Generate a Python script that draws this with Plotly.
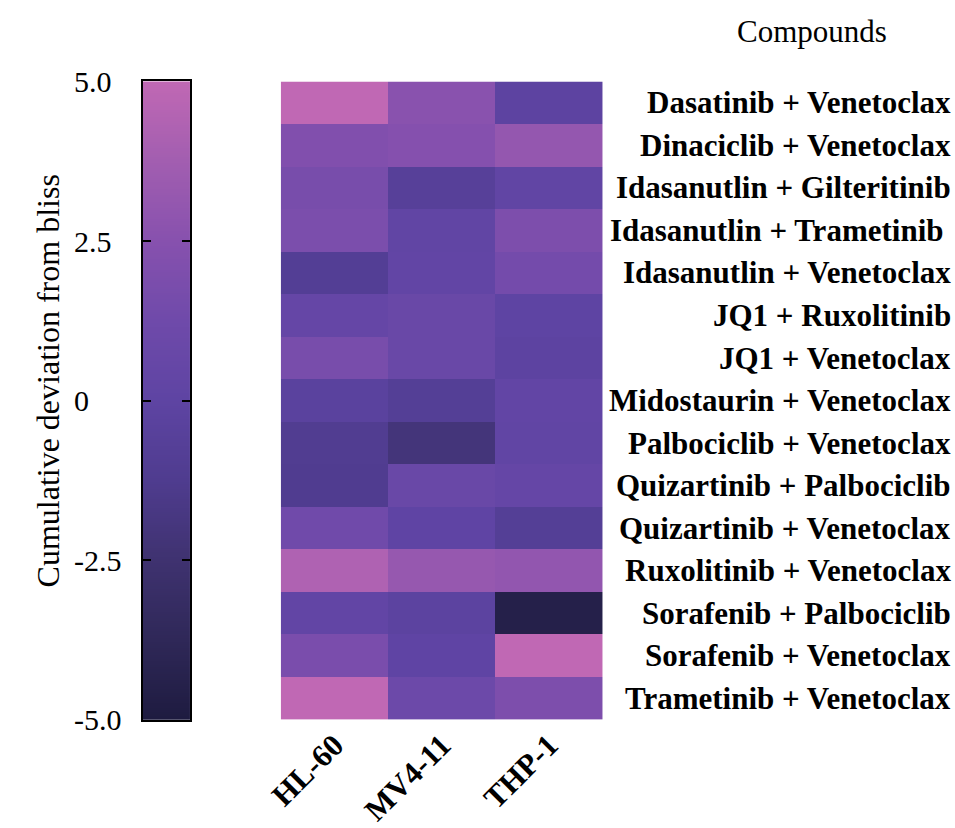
import numpy as np
import plotly.graph_objects as go

# ---- data -------------------------------------------------------------
cell_lines = ["HL-60", "MV4-11", "THP-1"]
compounds = [
    "Dasatinib + Venetoclax",
    "Dinaciclib + Venetoclax",
    "Idasanutlin + Gilteritinib",
    "Idasanutlin + Trametinib ",
    "Idasanutlin + Venetoclax",
    "JQ1 + Ruxolitinib",
    "JQ1 + Venetoclax",
    "Midostaurin + Venetoclax",
    "Palbociclib + Venetoclax",
    "Quizartinib + Palbociclib",
    "Quizartinib + Venetoclax",
    "Ruxolitinib + Venetoclax",
    "Sorafenib + Palbociclib",
    "Sorafenib + Venetoclax",
    "Trametinib + Venetoclax",
]
hl60 = [5.0, 2.2, 1.7, 1.9, -0.9, 0.5, 1.7, -0.3, -1.1, -1.2, 1.3, 4.3, 0.3, 1.8, 5.0]
mv411 = [2.6, 2.4, -0.6, 0.2, 0.3, 0.8, 0.8, -0.8, -2.1, 0.8, 0.1, 3.2, -0.2, 0.1, 1.0]
thp1 = [-0.1, 3.1, 0.2, 2.0, 1.5, 0.0, -0.1, 0.3, 0.2, 0.5, -0.8, 3.0, -4.5, 5.0, 2.0]

scale_ticks = [-5.0, -2.5, 0.0, 2.5, 5.0]
scale_ticktext = ["-5.0", "-2.5", "0", "2.5", "5.0"]
zmin, zmax = -5.0, 5.0

colorscale = [
    [0.0, "#1E1B40"], [0.125, "#2F2858"], [0.25, "#3F3270"],
    [0.375, "#4F3C8F"], [0.5, "#5E44A3"], [0.625, "#6F4AAA"],
    [0.75, "#8751AE"], [0.875, "#A25EB0"], [1.0, "#C068B4"],
]

# ---- geometry (pixels -> paper) ---------------------------------------
W, H = 955, 828
def px(x):
    return x / W
def py(y):
    return 1 - y / H

z = [[a, b, c] for a, b, c in zip(hl60, mv411, thp1)]
serif = "Liberation Serif, Times New Roman, serif"

fig = go.Figure()
fig.add_trace(go.Heatmap(
    z=z, x=cell_lines, y=compounds,
    colorscale=colorscale, zmin=zmin, zmax=zmax,
    showscale=False, xgap=0, ygap=0,
))

# colour key drawn as a one-column heatmap on its own axes
levels = np.linspace(zmin, zmax, 301)
fig.add_trace(go.Heatmap(
    z=[[v] for v in levels], x=[0.5], y=levels,
    colorscale=colorscale, zmin=zmin, zmax=zmax,
    showscale=False, xaxis="x2", yaxis="y2", hoverinfo="skip",
))

dom_y = [py(733), py(83)]
fig.update_layout(
    width=W, height=H,
    margin=dict(l=0, r=0, t=0, b=0),
    paper_bgcolor="white", plot_bgcolor="white",
    font=dict(family=serif, color="black", size=30),
    xaxis=dict(
        domain=[px(270), px(597)], anchor="y",
        tickangle=-45, ticks="", showline=False, showgrid=False,
        tickfont=dict(family=serif, size=31, weight="bold"),
    ),
    yaxis=dict(
        domain=dom_y, anchor="x",
        autorange="reversed", showticklabels=False, ticks="",
        showline=False, showgrid=False,
    ),
    xaxis2=dict(
        domain=[px(130), px(178)], anchor="y2", range=[0, 1],
        showline=True, mirror=True, linewidth=2, linecolor="black",
        ticks="", showticklabels=False, showgrid=False, zeroline=False,
    ),
    yaxis2=dict(
        domain=dom_y, anchor="x2", range=[zmin, zmax],
        showline=True, mirror="ticks", linewidth=2, linecolor="black",
        ticks="inside", ticklen=8, tickwidth=2, tickcolor="black",
        tickvals=scale_ticks, showticklabels=False,
        showgrid=False, zeroline=False,
    ),
)

annotations = []
# colour-key tick labels (left aligned)
for v, t in zip(scale_ticks, scale_ticktext):
    annotations.append(dict(
        x=px(58), xref="paper", xanchor="left",
        y=v, yref="y2", yanchor="middle",
        text=t, showarrow=False, font=dict(family=serif, size=30),
    ))
# colour-key title
annotations.append(dict(
    x=px(33), xref="paper", xanchor="center",
    y=py(388), yref="paper", yanchor="middle",
    text="Cumulative deviation from bliss", textangle=-90,
    showarrow=False, font=dict(family=serif, size=32),
))
# compound names, right aligned
for name in compounds:
    label = name.rstrip() + "\u00a0" if name.endswith(" ") else name
    annotations.append(dict(
        x=px(953), xref="paper", xanchor="right",
        y=name, yref="y", yanchor="middle",
        text=label, showarrow=False,
        font=dict(family=serif, size=31, weight="bold"),
    ))
annotations.append(dict(
    x=px(810), xref="paper", xanchor="center",
    y=py(32), yref="paper", yanchor="middle",
    text="Compounds", showarrow=False, font=dict(family=serif, size=31),
))
fig.update_layout(annotations=annotations)

fig.write_html("out.html")
